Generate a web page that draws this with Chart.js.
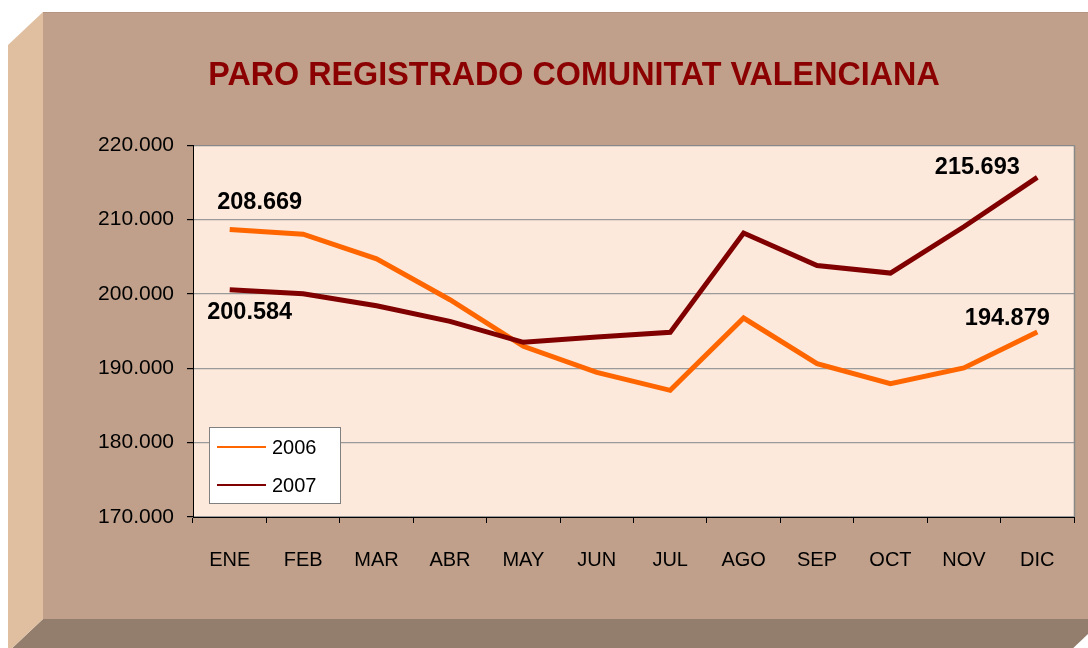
<!DOCTYPE html>
<html>
<head>
<meta charset="utf-8">
<script src="https://cdn.jsdelivr.net/npm/chart.js@4/dist/chart.umd.min.js"></script>
<style>
  html, body { margin: 0; padding: 0; background: #ffffff; }
  canvas { display: block; }
</style>
</head>
<body>
<canvas id="c" width="1088" height="648"></canvas>
<script>
const months = ['ENE','FEB','MAR','ABR','MAY','JUN','JUL','AGO','SEP','OCT','NOV','DIC'];
const paro2006 = [208669, 208050, 204740, 199230, 192960, 189460, 187040, 196770, 190630, 187940, 190050, 194879];
const paro2007 = [200584, 200040, 198430, 196320, 193500, 194220, 194840, 208200, 203840, 202820, 209050, 215693];
const seriesNames = ['2006', '2007'];
const yMin = 170000, yMax = 220000, yStep = 10000;
const chartTitle = 'PARO REGISTRADO COMUNITAT VALENCIANA';

const FONT = "'Liberation Sans', Arial, sans-serif";
function fmt(v) { return String(Math.round(v)).replace(/\B(?=(\d{3})+(?!\d))/g, '.'); }

const framePlugin = {
  id: 'frame',
  beforeDraw(chart) {
    const c = chart.ctx;
    c.save();
    c.fillStyle = '#937D6C';
    c.beginPath();
    c.moveTo(43, 619); c.lineTo(1104, 619); c.lineTo(1069, 652); c.lineTo(8, 652); c.closePath(); c.fill();
    c.fillStyle = '#DFBFA0';
    c.beginPath();
    c.moveTo(8, 45); c.lineTo(43, 12); c.lineTo(43, 619); c.lineTo(8, 652); c.closePath(); c.fill();
    c.fillStyle = '#C0A08A';
    c.fillRect(43, 12, 1100, 607);
    c.strokeStyle = '#B39580';
    c.lineWidth = 1;
    c.beginPath(); c.moveTo(43, 12.5); c.lineTo(1088, 12.5); c.stroke();
    const a = chart.chartArea;
    c.fillStyle = '#FCE9DB';
    c.fillRect(a.left, a.top, a.right - a.left, a.bottom - a.top);
    c.restore();
  },
  beforeDatasetsDraw(chart) {
    const c = chart.ctx, a = chart.chartArea;
    c.save();
    c.strokeStyle = '#888888';
    c.lineWidth = 1.5;
    c.beginPath();
    c.moveTo(Math.round(a.right) + 0.5, a.top);
    c.lineTo(Math.round(a.right) + 0.5, a.bottom);
    c.stroke();
    c.restore();
  },
  afterDraw(chart) {
    const c = chart.ctx, a = chart.chartArea;
    c.save();
    const bx = Math.round(a.left) + 16, by = Math.round(a.bottom) - 90, bw = 131, bh = 76;
    c.fillStyle = '#ffffff';
    c.fillRect(bx, by, bw, bh);
    c.strokeStyle = '#808080';
    c.lineWidth = 1;
    c.strokeRect(bx + 0.5, by + 0.5, bw, bh);
    chart.data.datasets.forEach((ds, i) => {
      const y = by + 20 + i * 38;
      c.strokeStyle = ds.borderColor;
      c.lineWidth = 2;
      c.beginPath(); c.moveTo(bx + 8, y); c.lineTo(bx + 57, y); c.stroke();
      c.fillStyle = '#000000';
      c.font = '20px ' + FONT;
      c.textAlign = 'left';
      c.textBaseline = 'middle';
      c.fillText(ds.label, bx + 63, y + 1);
    });
    const labelSpots = [
      { ds: 0, i: 0, dx: 30, dy: -27 },
      { ds: 1, i: 0, dx: 20, dy: 23 },
      { ds: 0, i: 11, dx: -30, dy: -14 },
      { ds: 1, i: 11, dx: -60, dy: -10 }
    ];
    c.font = 'bold 23.5px ' + FONT;
    c.fillStyle = '#000000';
    c.textAlign = 'center';
    c.textBaseline = 'middle';
    labelSpots.forEach(s => {
      const el = chart.getDatasetMeta(s.ds).data[s.i];
      const v = chart.data.datasets[s.ds].data[s.i];
      c.fillText(fmt(v), el.x + s.dx, el.y + s.dy);
    });
    c.restore();
  }
};

new Chart(document.getElementById('c'), {
  type: 'line',
  data: {
    labels: months,
    datasets: [
      { label: seriesNames[0], data: paro2006, borderColor: '#FF6600', borderWidth: 5, pointRadius: 0, tension: 0, order: 1, borderJoinStyle: 'miter' },
      { label: seriesNames[1], data: paro2007, borderColor: '#800000', borderWidth: 5, pointRadius: 0, tension: 0, order: 0, borderJoinStyle: 'miter' }
    ]
  },
  options: {
    responsive: false,
    animation: false,
    devicePixelRatio: 1,
    layout: { padding: { left: 74, right: 14, top: 0, bottom: 0 } },
    plugins: {
      legend: { display: false },
      tooltip: { enabled: false },
      title: {
        display: true,
        text: chartTitle,
        color: '#8B0000',
        font: { family: FONT, size: 32.3, weight: 'bold', lineHeight: 1.2 },
        padding: { top: 57, bottom: 49.6 }
      }
    },
    scales: {
      x: {
        offset: true,
        grid: { offset: true, drawOnChartArea: false, drawTicks: true, tickLength: 6, tickColor: '#000000' },
        border: { color: '#000000', width: 1 },
        ticks: { color: '#000000', font: { family: FONT, size: 20 }, padding: 25, maxRotation: 0, autoSkip: false },
        afterFit(scale) { scale.height = 131; }
      },
      y: {
        min: yMin, max: yMax,
        grid: {
          color: (ctx) => ctx.tick && ctx.tick.value === yMax ? '#888888' : '#9A9A9A',
          lineWidth: 1.2,
          tickLength: 6,
          tickColor: '#000000'
        },
        border: { color: '#000000', width: 1 },
        ticks: { stepSize: yStep, color: '#000000', font: { family: FONT, size: 21 }, padding: 13, callback: (v) => fmt(v) },
        afterFit(scale) { scale.width = 119; }
      }
    }
  },
  plugins: [framePlugin]
});
</script>
</body>
</html>
